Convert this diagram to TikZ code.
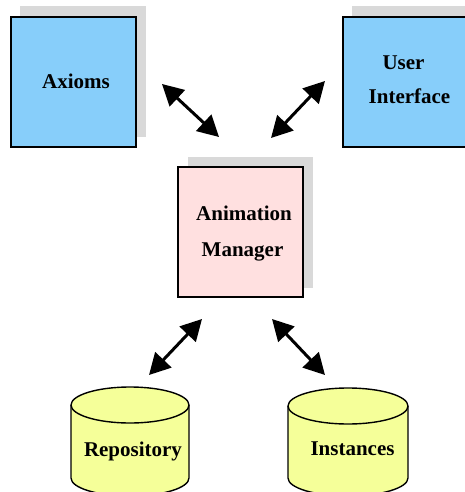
\documentclass[tikz,border=0pt]{standalone}
\usepackage{fontspec}
\setmainfont{Liberation Serif}
\usetikzlibrary{arrows.meta}
\definecolor{boxblue}{HTML}{87CEFA}
\definecolor{mgrpink}{HTML}{FFE0E0}
\definecolor{dbyellow}{HTML}{F5FF99}
\definecolor{shadowgray}{HTML}{D9D9D9}
\tikzset{
  boxline/.style={draw=black, line width=1.4pt},
  shadowbox/.style={fill=shadowgray},
  txt/.style={font=\fontsize{21}{25}\selectfont\bfseries, anchor=base, inner sep=0pt},
  biarrow/.style={line width=3pt, {Triangle[length=21pt,width=22pt]}-{Triangle[length=21pt,width=22pt]}},
}
\begin{document}
\begin{tikzpicture}[x=1pt,y=-1pt]
\useasboundingbox (0,0) rectangle (465,492);

% Axioms module
\fill[shadowbox] (20,6) rectangle (146,137);
\filldraw[boxline, fill=boxblue] (11,17) rectangle (136,147);
\node[txt] (axioms) at (76,89) {Axioms};

% User interface module
\fill[shadowbox] (352,6) rectangle (478,137);
\filldraw[boxline, fill=boxblue] (343,17) rectangle (468,147);
\node[txt] (uiA) at (403.5,70) {User};
\node[txt] (uiB) at (409.5,103) {Interface};

% Animation manager
\fill[shadowbox] (188,157) rectangle (313,288);
\filldraw[boxline, fill=mgrpink] (178,167) rectangle (303,297);
\node[txt] (amA) at (244,220) {Animation};
\node[txt] (amB) at (242.5,256) {Manager};

% Repository store
\filldraw[boxline, fill=dbyellow] (71,405) -- (71,478)
  arc[start angle=180, end angle=0, x radius=59, y radius=18] -- (189,405);
\filldraw[boxline, fill=dbyellow] (130,405) ellipse[x radius=59, y radius=18];
\node[txt] (repo) at (133,456) {Repository};

% Instances store
\filldraw[boxline, fill=dbyellow] (288,406) -- (288,478)
  arc[start angle=180, end angle=0, x radius=60, y radius=18] -- (408,406);
\filldraw[boxline, fill=dbyellow] (348,406) ellipse[x radius=60, y radius=18];
\node[txt] (inst) at (352.5,455) {Instances};

% Arrow end points
\coordinate (a1) at (162,84);
\coordinate (a2) at (219,137);
\coordinate (b1) at (325,81);
\coordinate (b2) at (271,138);
\coordinate (c1) at (202,319);
\coordinate (c2) at (149,375);
\coordinate (d1) at (272,319);
\coordinate (d2) at (325,375);

\draw[biarrow] (a1) -- (a2);
\draw[biarrow] (b1) -- (b2);
\draw[biarrow] (c1) -- (c2);
\draw[biarrow] (d1) -- (d2);
\end{tikzpicture}
\end{document}
